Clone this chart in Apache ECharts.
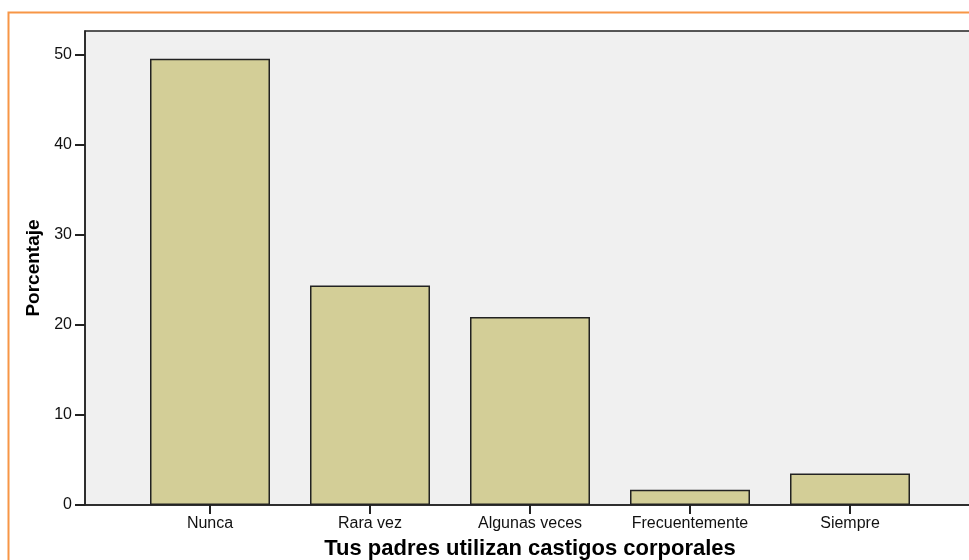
<!DOCTYPE html>
<html>
<head>
<meta charset="utf-8">
<script src="https://cdn.jsdelivr.net/npm/echarts@6/dist/echarts.min.js"></script>
<style>html,body{margin:0;padding:0;background:#fff}#c{width:969px;height:560px}</style>
</head>
<body>
<div id="c"></div>
<script>
const categories = ['Nunca', 'Rara vez', 'Algunas veces', 'Frecuentemente', 'Siempre'];
const percentages = [49.6, 24.4, 20.9, 1.7, 3.5];
const yMax = 52.67;
const yInterval = 10;

const font = '"Liberation Sans", Arial, sans-serif';
const chart = echarts.init(document.getElementById('c'), null, {renderer: 'canvas'});
chart.setOption({
  animation: false,
  backgroundColor: '#ffffff',
  graphic: [{
    type: 'rect', z: 100, silent: true,
    shape: {x: 8.5, y: 12.5, width: 1000, height: 600},
    style: {fill: 'none', stroke: '#f79646', lineWidth: 2}
  }],
  grid: [
    {left: 85, top: 31, right: -15, bottom: 55, show: true, backgroundColor: '#f0f0f0', borderColor: '#222', borderWidth: 1.5, outerBoundsMode: 'none', containLabel: false},
    {left: 130, top: 31, right: 39, bottom: 55, outerBoundsMode: 'none', containLabel: false}
  ],
  xAxis: [
    {gridIndex: 0, type: 'category', data: [''], axisLine: {show: true, lineStyle: {color: '#222', width: 1.5}}, axisTick: {show: false}, axisLabel: {show: false}, splitLine: {show: false}},
    {gridIndex: 1, type: 'category', data: categories,
     axisLine: {show: false},
     axisTick: {show: true, alignWithLabel: true, length: 9, lineStyle: {color: '#222', width: 2}},
     axisLabel: {color: '#111', fontFamily: font, fontSize: 16, margin: 11},
     name: 'Tus padres utilizan castigos corporales', nameLocation: 'middle', nameGap: 33,
     nameTextStyle: {color: '#000', fontFamily: font, fontSize: 22, fontWeight: 'bold'}}
  ],
  yAxis: [
    {gridIndex: 0, type: 'value', min: 0, max: yMax, interval: yInterval,
     axisLine: {show: true, lineStyle: {color: '#222', width: 1.5}},
     axisTick: {show: true, length: 10, lineStyle: {color: '#222', width: 2}},
     axisLabel: {color: '#111', fontFamily: font, fontSize: 16, margin: 13, showMaxLabel: false},
     splitLine: {show: false},
     name: 'Porcentaje', nameLocation: 'middle', nameGap: 39, nameRotate: 90,
     nameTextStyle: {color: '#000', fontFamily: font, fontSize: 19, fontWeight: 'bold'}},
    {gridIndex: 1, type: 'value', min: 0, max: yMax, interval: yInterval, show: false}
  ],
  series: [{
    type: 'bar', xAxisIndex: 1, yAxisIndex: 1, data: percentages, barWidth: 120,
    itemStyle: {color: '#d3ce97', borderColor: '#222', borderWidth: 1.5}
  }]
});
</script>
</body>
</html>
